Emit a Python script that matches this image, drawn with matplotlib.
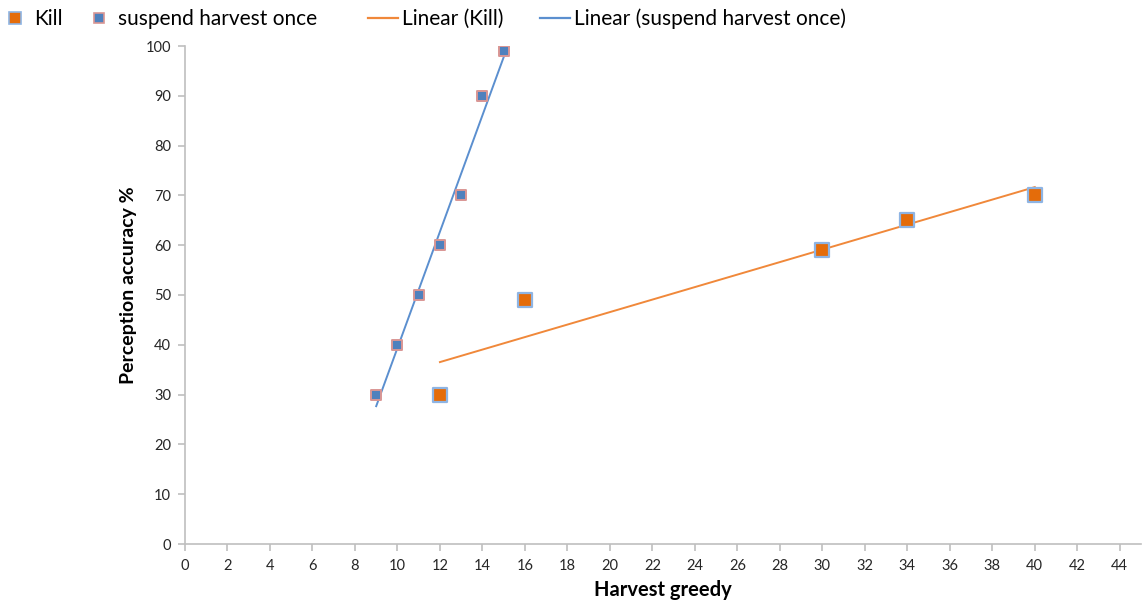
import numpy as np
import matplotlib
matplotlib.use("Agg")
import matplotlib.pyplot as plt
from matplotlib.lines import Line2D

plt.rcParams['font.family'] = ['Lato', 'DejaVu Sans']

kill_x = [12, 16, 30, 34, 40]
kill_y = [30, 49, 59, 65, 70]
susp_x = [9, 10, 11, 12, 13, 14, 15]
susp_y = [30, 40, 50, 60, 70, 90, 99]

x_ticks = list(range(0, 45, 2))
y_ticks = list(range(0, 101, 10))

orange = '#E46C0A'
blue = '#4F81BD'
line_orange = '#F0883A'
line_blue = '#5B8FCF'

W, H = 1144, 603
fig = plt.figure(figsize=(W/100, H/100), dpi=100)
ax = fig.add_axes([185/W, 59/H, (1141-185)/W, (544-46)/H])

# trend lines (least-squares fits of the data)
kx = np.array(kill_x, dtype=float)
ky = np.array(kill_y, dtype=float)
sx = np.array(susp_x, dtype=float)
sy = np.array(susp_y, dtype=float)
kp = np.polyfit(kx, ky, 1)
sp = np.polyfit(sx, sy, 1)
kxx = np.array([kx.min(), kx.max()])
sxx = np.array([sx.min(), sx.max()])
ax.plot(kxx, np.polyval(kp, kxx), color=line_orange, lw=1.4, zorder=2)
ax.plot(sxx, np.polyval(sp, sxx), color=line_blue, lw=1.4, zorder=2)

ax.scatter(kill_x, kill_y, marker='s', s=90, c=orange, edgecolors='#8EB4E3', linewidths=1.6, zorder=3)
ax.scatter(susp_x, susp_y, marker='s', s=45, c=blue, edgecolors='#D99694', linewidths=1.4, zorder=4)

ax.set_xlim(0, 45)
ax.set_ylim(0, 100)
ax.set_xticks(x_ticks)
ax.set_yticks(y_ticks)
for s in ['top', 'right']:
    ax.spines[s].set_visible(False)
for s in ['left', 'bottom']:
    ax.spines[s].set_color('#BFBFBF')
    ax.spines[s].set_linewidth(1.2)
ax.tick_params(axis='both', colors='#BFBFBF', labelcolor='#262626', labelsize=10.5, length=5, width=1.2, direction='out')
ax.tick_params(axis='x', pad=6)
ax.tick_params(axis='y', pad=5)

ax.set_xlabel('Harvest greedy', fontsize=14.5, fontweight='bold', va='baseline')
ax.xaxis.set_label_coords(0.5, (544-596)/498)
ax.set_ylabel('Perception accuracy %', fontsize=14, fontweight='bold')
ax.yaxis.set_label_coords((137-185)/956, (544-285)/498)

handles = [
    Line2D([], [], marker='s', ls='none', markersize=9, markerfacecolor=orange, markeredgecolor='#8EB4E3', markeredgewidth=1.2),
    Line2D([], [], marker='s', ls='none', markersize=6.5, markerfacecolor=blue, markeredgecolor='#D99694', markeredgewidth=1.2),
    Line2D([], [], color=line_orange, lw=1.6),
    Line2D([], [], color=line_blue, lw=1.6),
]
labels = ['Kill', 'suspend harvest once', 'Linear (Kill)', 'Linear (suspend harvest once)']
starts = [0, 84, 368, 540]
fs = 15
em = fs * 100 / 72.0
for h, l, x0 in zip(handles, labels, starts):
    fig.legend([h], [l], loc='center left', bbox_to_anchor=(x0/W, 1 - 19/H),
               frameon=False, fontsize=fs, handlelength=30/em, handletextpad=4/em,
               borderpad=0, borderaxespad=0)

fig.savefig('out.png', dpi=100)
